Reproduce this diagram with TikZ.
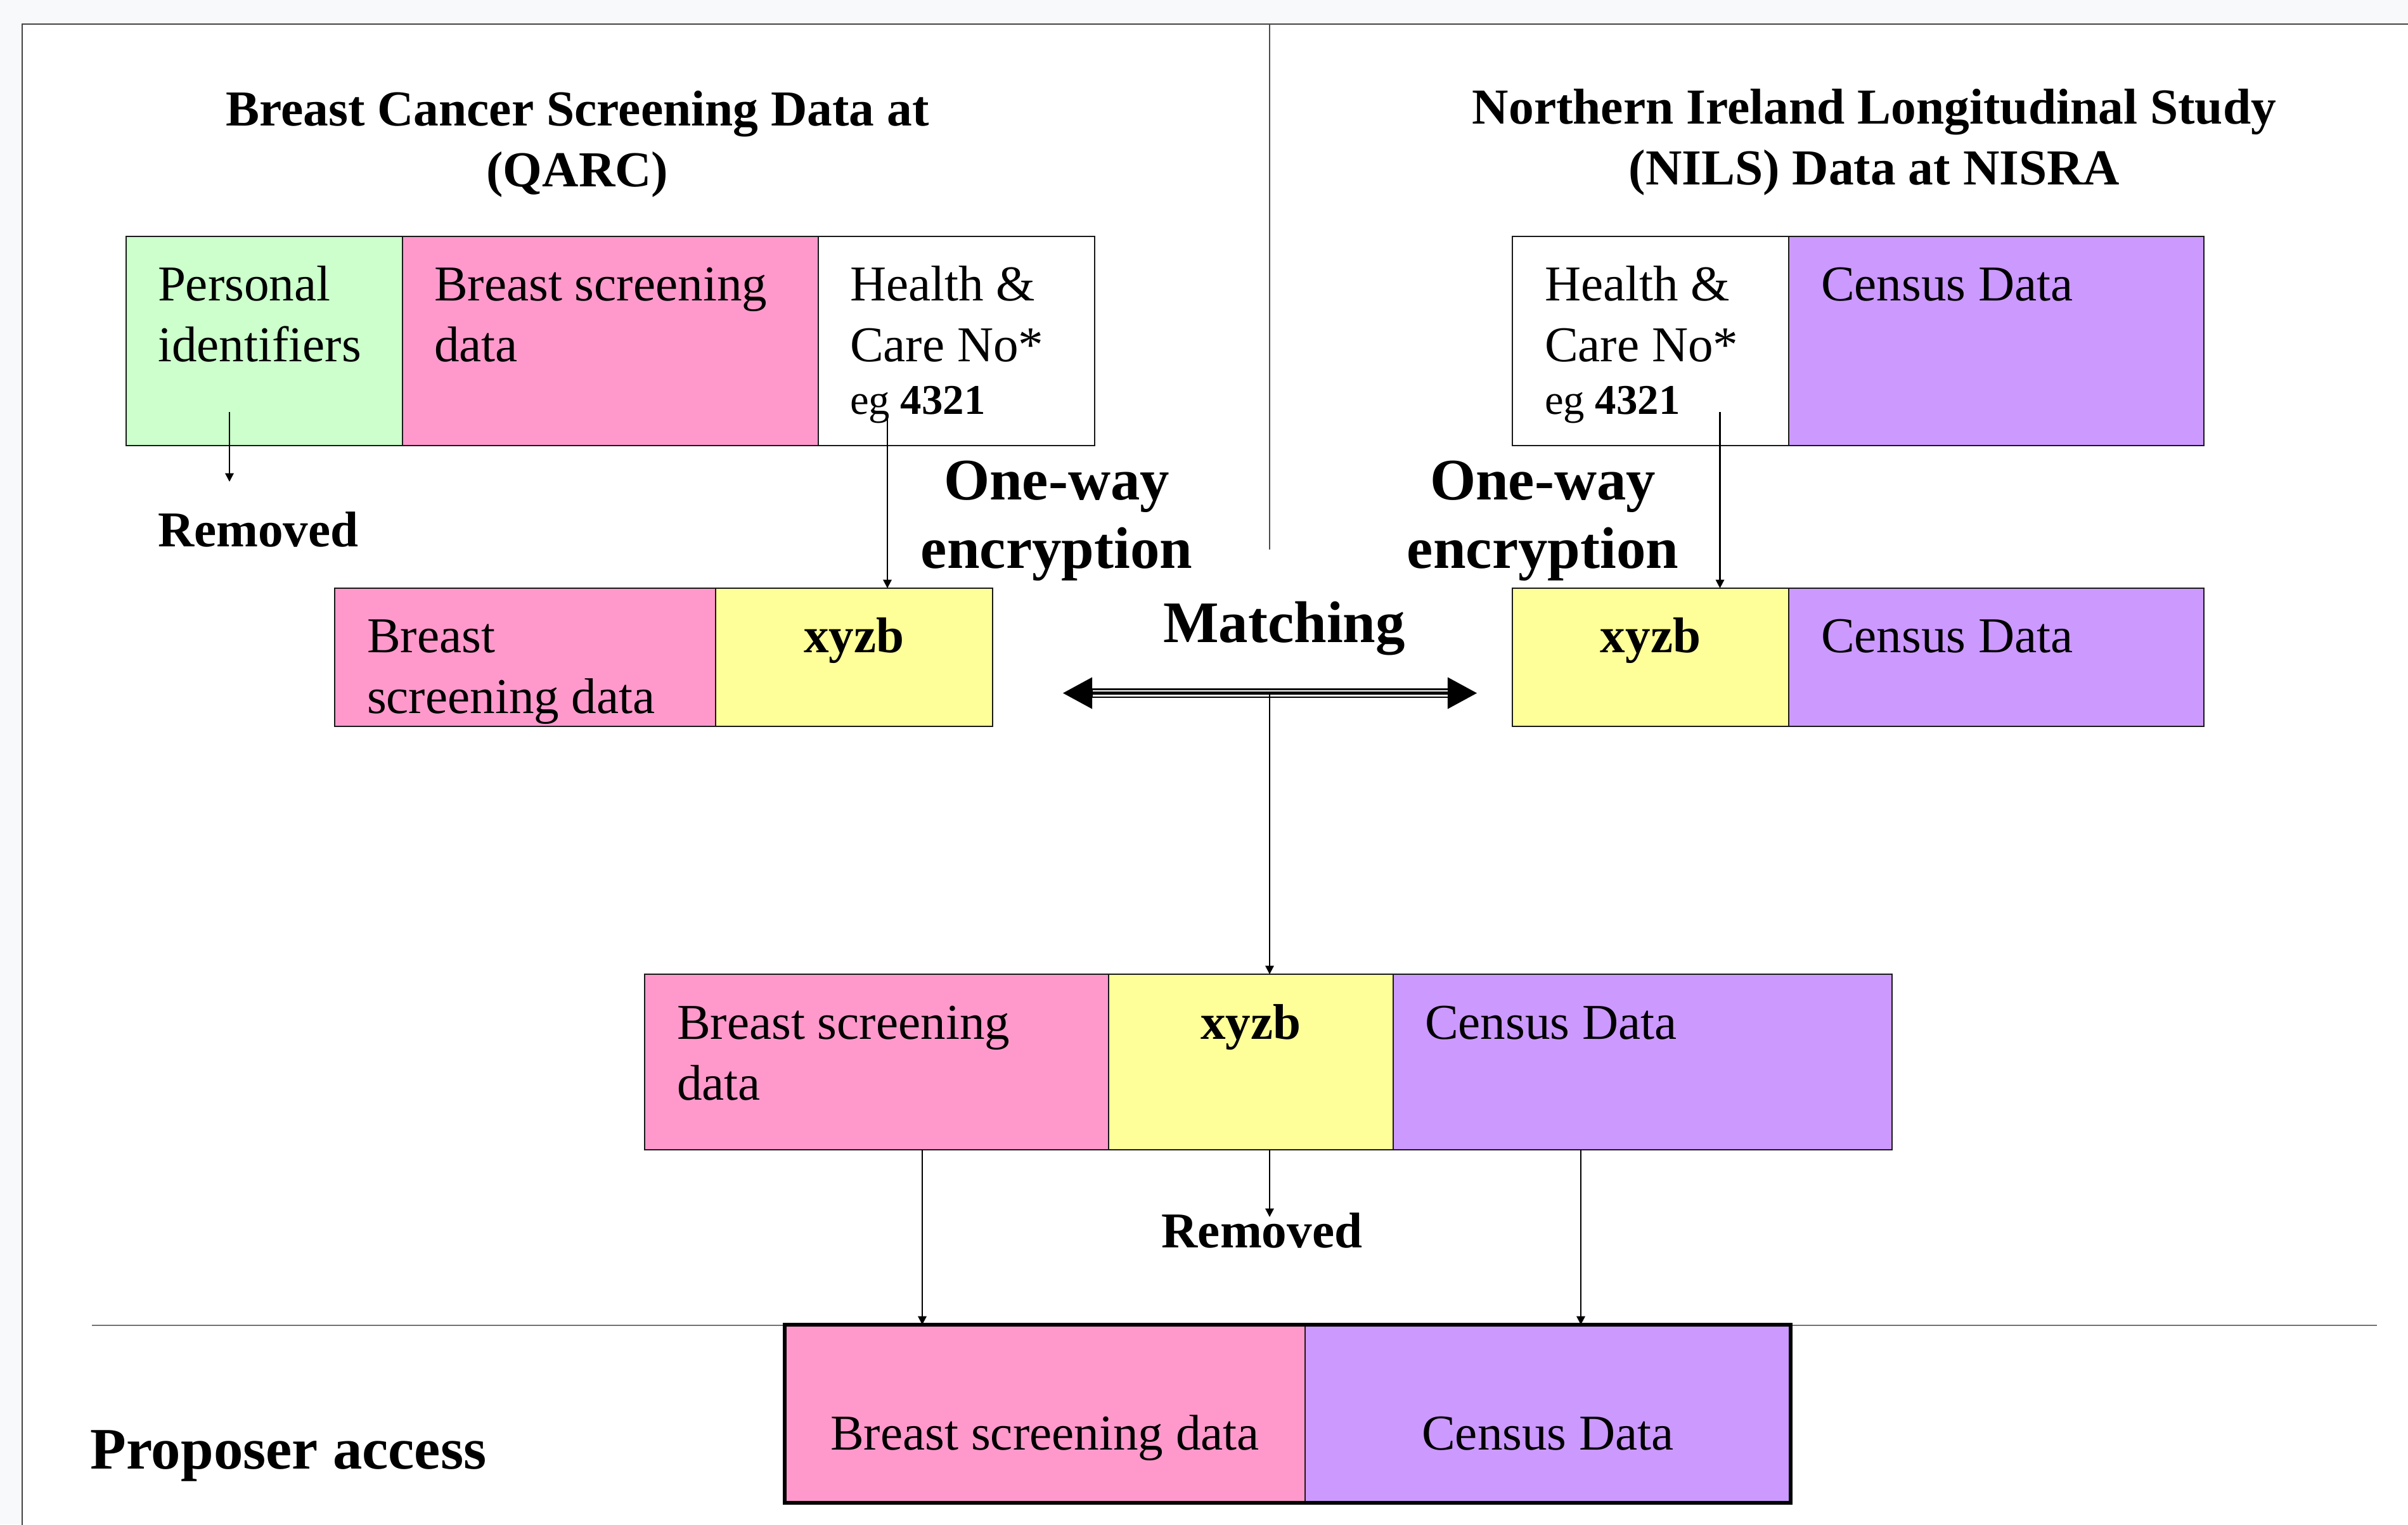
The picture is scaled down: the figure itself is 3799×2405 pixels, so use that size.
\documentclass[tikz,border=0pt]{standalone}
\usepackage{fontspec}
\setmainfont{Liberation Serif}
\usetikzlibrary{arrows.meta,fit}
\definecolor{cgreen}{HTML}{CCFFCC}
\definecolor{cpink}{HTML}{FF99CC}
\definecolor{cyellow}{HTML}{FFFF99}
\definecolor{cpurple}{HTML}{CC99FF}
\definecolor{bgc}{HTML}{F8F9FB}
\definecolor{slideb}{HTML}{444444}
\newcommand\bodyfont{\fontsize{22.5}{27.3}\selectfont}
\newcommand\bigfont{\fontsize{26.4}{30.8}\selectfont\bfseries}
\newcommand\ttlfont{\fontsize{22.6}{27.4}\selectfont\bfseries}
\newcommand\egfont{\fontsize{19}{22}\selectfont}
\newcommand\lines[1]{\parbox[t]{8cm}{\raggedright #1}}
\newcommand\clines[1]{\parbox[t]{16cm}{\centering #1}}
\begin{document}
\begin{tikzpicture}[x=0.01cm,y=-0.01cm,
  cellst/.style={draw=black!90, line width=0.6pt, inner sep=0pt, outer sep=0pt},
  txt/.style={inner sep=0pt, outer sep=0pt, anchor=base west, font=\bodyfont},
  ctxt/.style={inner sep=0pt, outer sep=0pt, anchor=base, font=\bodyfont},
  egtxt/.style={inner sep=0pt, outer sep=0pt, anchor=base west, font=\egfont},
  ttl/.style={inner sep=0pt, outer sep=0pt, anchor=base, font=\ttlfont},
  bigt/.style={inner sep=0pt, outer sep=0pt, anchor=base, font=\bigfont},
  remt/.style={inner sep=0pt, outer sep=0pt, font=\bodyfont\bfseries},
  arr/.style={-{Triangle[length=3.8pt,width=3.8pt]}, line width=0.6pt},
  bigarr/.style={{Triangle[length=13.4pt,width=13.2pt]}-{Triangle[length=13.4pt,width=13.2pt]}, line width=4.3pt}
]
\useasboundingbox (0,0) rectangle (3799,2405);
\clip (0,0) rectangle (3799,2405);
\fill[bgc] (0,0) rectangle (3799,2405);
\draw[fill=white, draw=slideb, line width=0.6pt] (35,38) rectangle (3850,2460);

% dividers
\draw[black!70, line width=0.6pt] (2003,38) -- (2003,867);
\draw[black!55, line width=0.6pt] (145,2091) -- (3750,2091);

% titles
\node[ttl] (ttlL) at (911,198.3) {\clines{Breast Cancer Screening Data at\\(QARC)}};
\node[ttl] (ttlR) at (2957,195) {\clines{Northern Ireland Longitudinal Study\\(NILS) Data at NISRA}};

% top-left table
\node[cellst, fill=cgreen, fit={(199,373) (635,703)}] (tlg) {};
\node[cellst, fill=cpink, fit={(635,373) (1291,703)}] (tlp) {};
\node[cellst, fill=white, fit={(1291,373) (1727,703)}] (tlw) {};
\node[txt] (t1) at (249,474.5) {\lines{Personal\\identifiers}};
\node[txt] (t2) at (685,474.5) {\lines{Breast screening\\data}};
\node[txt] (t3) at (1341,474.5) {\lines{Health \&\\Care No*}};
\node[egtxt] (t4) at (1341,653.4) {eg \textbf{4321}};

% top-right table
\node[cellst, fill=white, fit={(2386,373) (2822,703)}] (trw) {};
\node[cellst, fill=cpurple, fit={(2822,373) (3477,703)}] (trc) {};
\node[txt] (t5) at (2437,474) {\lines{Health \&\\Care No*}};
\node[egtxt] (t6) at (2437,653.3) {eg \textbf{4321}};
\node[txt] (t7) at (2873,474) {Census Data};

% middle-left table
\node[cellst, fill=cpink, fit={(528,928) (1129,1146)}] (mlp) {};
\node[cellst, fill=cyellow, fit={(1129,928) (1566,1146)}] (mly) {};
\node[txt] (t8) at (579,1029.5) {\lines{Breast\\screening data}};
\node[ctxt] (t9) at (1347.5,1029.5) {\textbf{xyzb}};

% middle-right table
\node[cellst, fill=cyellow, fit={(2386,928) (2822,1146)}] (mry) {};
\node[cellst, fill=cpurple, fit={(2822,928) (3477,1146)}] (mrc) {};
\node[ctxt] (t10) at (2604,1029.5) {\textbf{xyzb}};
\node[txt] (t11) at (2873,1029.5) {Census Data};

% bottom-middle table
\node[cellst, fill=cpink, fit={(1017,1537) (1749,1814)}] (bmp) {};
\node[cellst, fill=cyellow, fit={(1749,1537) (2198,1814)}] (bmy) {};
\node[cellst, fill=cpurple, fit={(2198,1537) (2985,1814)}] (bmc) {};
\node[txt] (t12) at (1068,1639.3) {\lines{Breast screening\\data}};
\node[ctxt] (t13) at (1973.5,1639.3) {\textbf{xyzb}};
\node[txt] (t14) at (2248,1639.3) {Census Data};

% final table
\node[cellst, fill=cpink, fit={(1238,2090) (2059,2371)}] (fp) {};
\node[cellst, fill=cpurple, fit={(2059,2090) (2825,2371)}] (fc) {};
\draw[line width=1.5pt] (fp.north west) rectangle (fc.south east);
\node[ctxt] (t15) at (1648.5,2287) {Breast screening data};
\node[ctxt] (t16) at (2442,2287) {Census Data};

% labels
\node[bigt] (ow1) at (1667,788) {\clines{One-way\\encryption}};
\node[bigt] (ow2) at (2434,788) {\clines{One-way\\encryption}};
\node[bigt] (match) at (2026,1013) {Matching};
\node[remt, anchor=base west] (rem1) at (249,862) {Removed};
\node[remt, anchor=base] (rem2) at (1991,1968) {Removed};
\node[bigt, anchor=base west] (prop) at (142.7,2317) {Proposer access};

% connectors
\coordinate (a1) at (362,650);
\coordinate (a1e) at (362,760);
\draw[arr] (a1) -- (a1e);
\coordinate (a2) at (1400,655);
\draw[arr] (a2) -- (a2 |- mly.north);
\coordinate (a3) at (2713.5,650);
\draw[arr] (a3) -- (a3 |- mry.north);

\coordinate (mL) at (1676,1093.5);
\coordinate (mR) at (2331,1093.5);
\coordinate (mC) at (2003,1093.5);
\draw[bigarr] (mL) -- (mR);
\draw[white, line width=0.75pt] (1724,1090) -- (2284,1090);
\draw[white, line width=0.75pt] (1724,1097.3) -- (2284,1097.3);
\draw[arr] (mC) -- (mC |- bmy.north);

\coordinate (b1) at (1455,1814);
\draw[arr] (b1) -- (b1 |- fp.north);
\coordinate (b2) at (2003,1814);
\coordinate (b2e) at (2003,1920);
\draw[arr] (b2) -- (b2e);
\coordinate (b3) at (2494,1814);
\draw[arr] (b3) -- (b3 |- fc.north);
\end{tikzpicture}
\end{document}
